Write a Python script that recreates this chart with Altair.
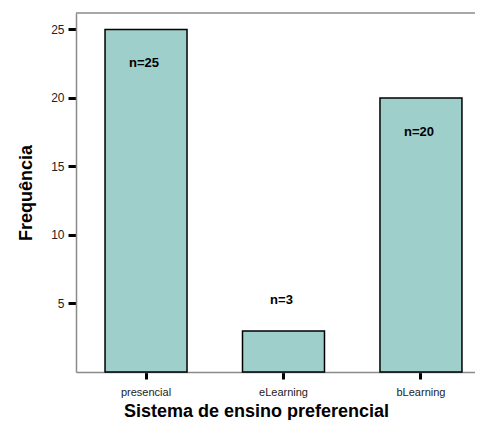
import altair as alt
import pandas as pd

categories = ["presencial", "eLearning", "bLearning"]
counts = [25, 3, 20]
labels = ["n=25", "n=3", "n=20"]

df = pd.DataFrame({"sistema": categories, "freq": counts, "label": labels})

W, H = 399, 359
FONT = "Liberation Sans"

x_enc = alt.X(
    "sistema:N",
    sort=categories,
    title="Sistema de ensino preferencial",
    scale=alt.Scale(paddingInner=0.4036, paddingOuter=0.153, align=0.69),
    axis=alt.Axis(
        labelAngle=0, labelFont=FONT, labelFontSize=11, labelColor="#222222",
        labelPadding=7, tickColor="black", tickWidth=3, tickSize=7,
        domainColor="#8a8a8a", domainWidth=1.5, grid=False,
        titleFont=FONT, titleFontSize=18, titleFontWeight="bold", titleColor="black",
        titleX=180, titleY=44, titleAlign="center", titleBaseline="alphabetic",
    ),
)
y_enc = alt.Y(
    "freq:Q",
    title="Frequência",
    scale=alt.Scale(domain=[0, 26.2], nice=False, zero=True),
    axis=alt.Axis(
        values=[5, 10, 15, 20, 25], labelFont=FONT, labelFontSize=12, labelColor="#222222",
        labelPadding=4, tickColor="black", tickWidth=3, tickSize=8,
        domainColor="#8a8a8a", domainWidth=1.5, grid=False,
        titleFont=FONT, titleFontSize=18, titleFontWeight="bold", titleColor="black",
        titleX=-45, titleBaseline="alphabetic",
    ),
)

base = alt.Chart(df)

bars = base.mark_bar(color="#9ecfcb", stroke="black", strokeWidth=1.5).encode(x=x_enc, y=y_enc)

text_in = base.transform_filter("datum.freq >= 10").mark_text(
    font=FONT, fontSize=13, fontWeight="bold", color="black", baseline="middle", dy=34, dx=-2
).encode(x=alt.X("sistema:N", sort=categories), y="freq:Q", text="label:N")

text_out = base.transform_filter("datum.freq < 10").mark_text(
    font=FONT, fontSize=13, fontWeight="bold", color="black", baseline="middle", dy=-31, dx=-2
).encode(x=alt.X("sistema:N", sort=categories), y="freq:Q", text="label:N")

top_border = alt.Chart(alt.Data(values=[{}])).mark_rule(color="#8a8a8a", strokeWidth=1.5).encode(
    x=alt.value(0), x2=alt.value(W + 2), y=alt.value(0)
)

chart = (
    alt.layer(bars, text_in, text_out, top_border)
    .properties(
        width=W, height=H,
        autosize=alt.AutoSizeParams(type="none"),
        padding={"left": 68, "top": 5, "right": 0, "bottom": 48},
    )
    .configure_view(stroke=None)
)

chart.save("out.html", embed_options={"renderer": "svg", "actions": False})
